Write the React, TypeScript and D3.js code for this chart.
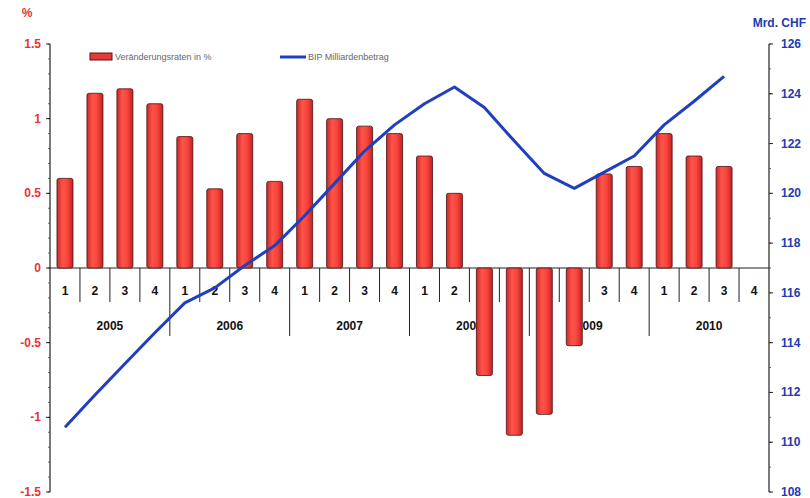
import React from "react";
import * as d3 from "d3";

const years = ["2005", "2006", "2007", "2008", "2009", "2010"];
const quarters = ["1", "2", "3", "4"];
const changeRates: (number | null)[] = [
  0.6, 1.17, 1.2, 1.1,
  0.88, 0.53, 0.9, 0.58,
  1.13, 1.0, 0.95, 0.9,
  0.75, 0.5, -0.72, -1.12,
  -0.98, -0.52, 0.63, 0.68,
  0.9, 0.75, 0.68, null,
];
const gdpBillions: (number | null)[] = [
  110.6, 111.9, 113.15, 114.4,
  115.6, 116.2, 117.1, 117.9,
  119.1, 120.4, 121.7, 122.75,
  123.6, 124.27, 123.45, 122.1,
  120.8, 120.2, 120.85, 121.5,
  122.75, 123.7, 124.7, null,
];
const leftTicks = [1.5, 1, 0.5, 0, -0.5, -1, -1.5];
const rightTicks = [126, 124, 122, 120, 118, 116, 114, 112, 110, 108];

const W = 810, H = 498;
const x0 = 50, x1 = 769, yTop = 44, yBot = 492;

export default function App() {
  const cats = years.flatMap((y) => quarters.map((q) => `${y}-${q}`));
  const x = d3.scaleBand().domain(cats).range([x0, x1]).paddingInner(0).paddingOuter(0);
  const yL = d3.scaleLinear().domain([-1.5, 1.5]).range([yBot, yTop]);
  const yR = d3.scaleLinear().domain([108, 126]).range([yBot, yTop]);
  const bw = x.bandwidth();
  const barW = 16;
  const zeroY = yL(0);

  const line = d3
    .line<number | null>()
    .defined((d) => d != null)
    .x((_, i) => (x(cats[i]) as number) + bw / 2)
    .y((d) => yR(d as number));

  const minorTicks = d3.range(-1.5, 1.5001, 0.1);
  const rightMinor = d3.range(108, 126.001, 1);

  return (
    <svg width={W} height={H} style={{ position: "absolute", left: 0, top: 0, background: "#fff" }}
      fontFamily="'Liberation Sans', Arial, sans-serif">
      <defs>
        <linearGradient id="barGrad" x1="0" x2="1" y1="0" y2="0">
          <stop offset="0" stopColor="#c8282a" />
          <stop offset="0.35" stopColor="#ff5448" />
          <stop offset="0.65" stopColor="#f8453d" />
          <stop offset="1" stopColor="#c22024" />
        </linearGradient>
      </defs>
      <rect x={0} y={0} width={W} height={H} fill="#fff" />

      {/* legend */}
      <rect x={90} y={53} width={22} height={7} fill="#e8383a" stroke="#5a1414" strokeWidth={1} />
      <text x={115} y={60} fontSize={9} fill="#666">Veränderungsraten in %</text>
      <line x1={280} y1={57} x2={306} y2={57} stroke="#1f3fbf" strokeWidth={3} />
      <text x={308} y={60} fontSize={9} fill="#666">BIP Milliardenbetrag</text>

      {/* left axis */}
      <line x1={x0} y1={yTop} x2={x0} y2={yBot} stroke="#222" strokeWidth={1.2} />
      {minorTicks.map((t, i) => (
        <line key={"lm" + i} x1={x0 - 2} x2={x0} y1={yL(t)} y2={yL(t)} stroke="#444" strokeWidth={0.8} />
      ))}
      {leftTicks.map((t) => (
        <g key={"lt" + t}>
          <line x1={x0 - 4} x2={x0} y1={yL(t)} y2={yL(t)} stroke="#222" strokeWidth={1} />
          <text x={41} y={yL(t) + 4} textAnchor="end" fontSize={12} fontWeight="bold" fill="#e8323a">
            {t === 0 ? "0" : String(t)}
          </text>
        </g>
      ))}
      <text x={27} y={17} textAnchor="middle" fontSize={12} fontWeight="bold" fill="#e8323a">%</text>

      {/* right axis */}
      <line x1={x1} y1={yTop} x2={x1} y2={yBot} stroke="#222" strokeWidth={1.2} />
      {rightMinor.map((t, i) => (
        <line key={"rm" + i} x1={x1} x2={x1 + 2} y1={yR(t)} y2={yR(t)} stroke="#444" strokeWidth={0.8} />
      ))}
      {rightTicks.map((t) => (
        <g key={"rt" + t}>
          <line x1={x1} x2={x1 + 4} y1={yR(t)} y2={yR(t)} stroke="#222" strokeWidth={1} />
          <text x={781} y={yR(t) + 4} fontSize={12} fontWeight="bold" fill="#1a3cb4">{t}</text>
        </g>
      ))}
      <text x={806} y={27} textAnchor="end" fontSize={12} fontWeight="bold" fill="#1a3cb4">Mrd. CHF</text>

      {/* category axis */}
      <line x1={x0} y1={zeroY} x2={x1} y2={zeroY} stroke="#222" strokeWidth={1.2} />
      {cats.map((c, i) => {
        const bx = x(c) as number;
        const isYear = i % 4 === 0;
        return (
          <g key={"sep" + c}>
            {i > 0 && (
              <line x1={bx} x2={bx} y1={zeroY} y2={isYear ? 336 : 302} stroke="#222" strokeWidth={1} />
            )}
            <text x={bx + bw / 2} y={295} textAnchor="middle" fontSize={12} fontWeight="bold" fill="#111">
              {quarters[i % 4]}
            </text>
          </g>
        );
      })}
      {years.map((y, yi) => (
        <text key={"yr" + y} x={(x(cats[yi * 4]) as number) + 2 * bw} y={330} textAnchor="middle"
          fontSize={12} fontWeight="bold" fill="#111">{y}</text>
      ))}

      {/* bars */}
      {changeRates.map((v, i) => {
        if (v == null) return null;
        const bx = (x(cats[i]) as number) + (bw - barW) / 2;
        const y = v >= 0 ? yL(v) : zeroY;
        const h = Math.abs(yL(v) - zeroY);
        return (
          <rect key={"b" + i} x={bx} y={y} width={barW} height={h} rx={2}
            fill="url(#barGrad)" stroke="#4a1212" strokeWidth={0.8} />
        );
      })}

      {/* GDP line */}
      <path d={line(gdpBillions) || ""} fill="none" stroke="#1f3fbf" strokeWidth={3} strokeLinejoin="round" />
    </svg>
  );
}
